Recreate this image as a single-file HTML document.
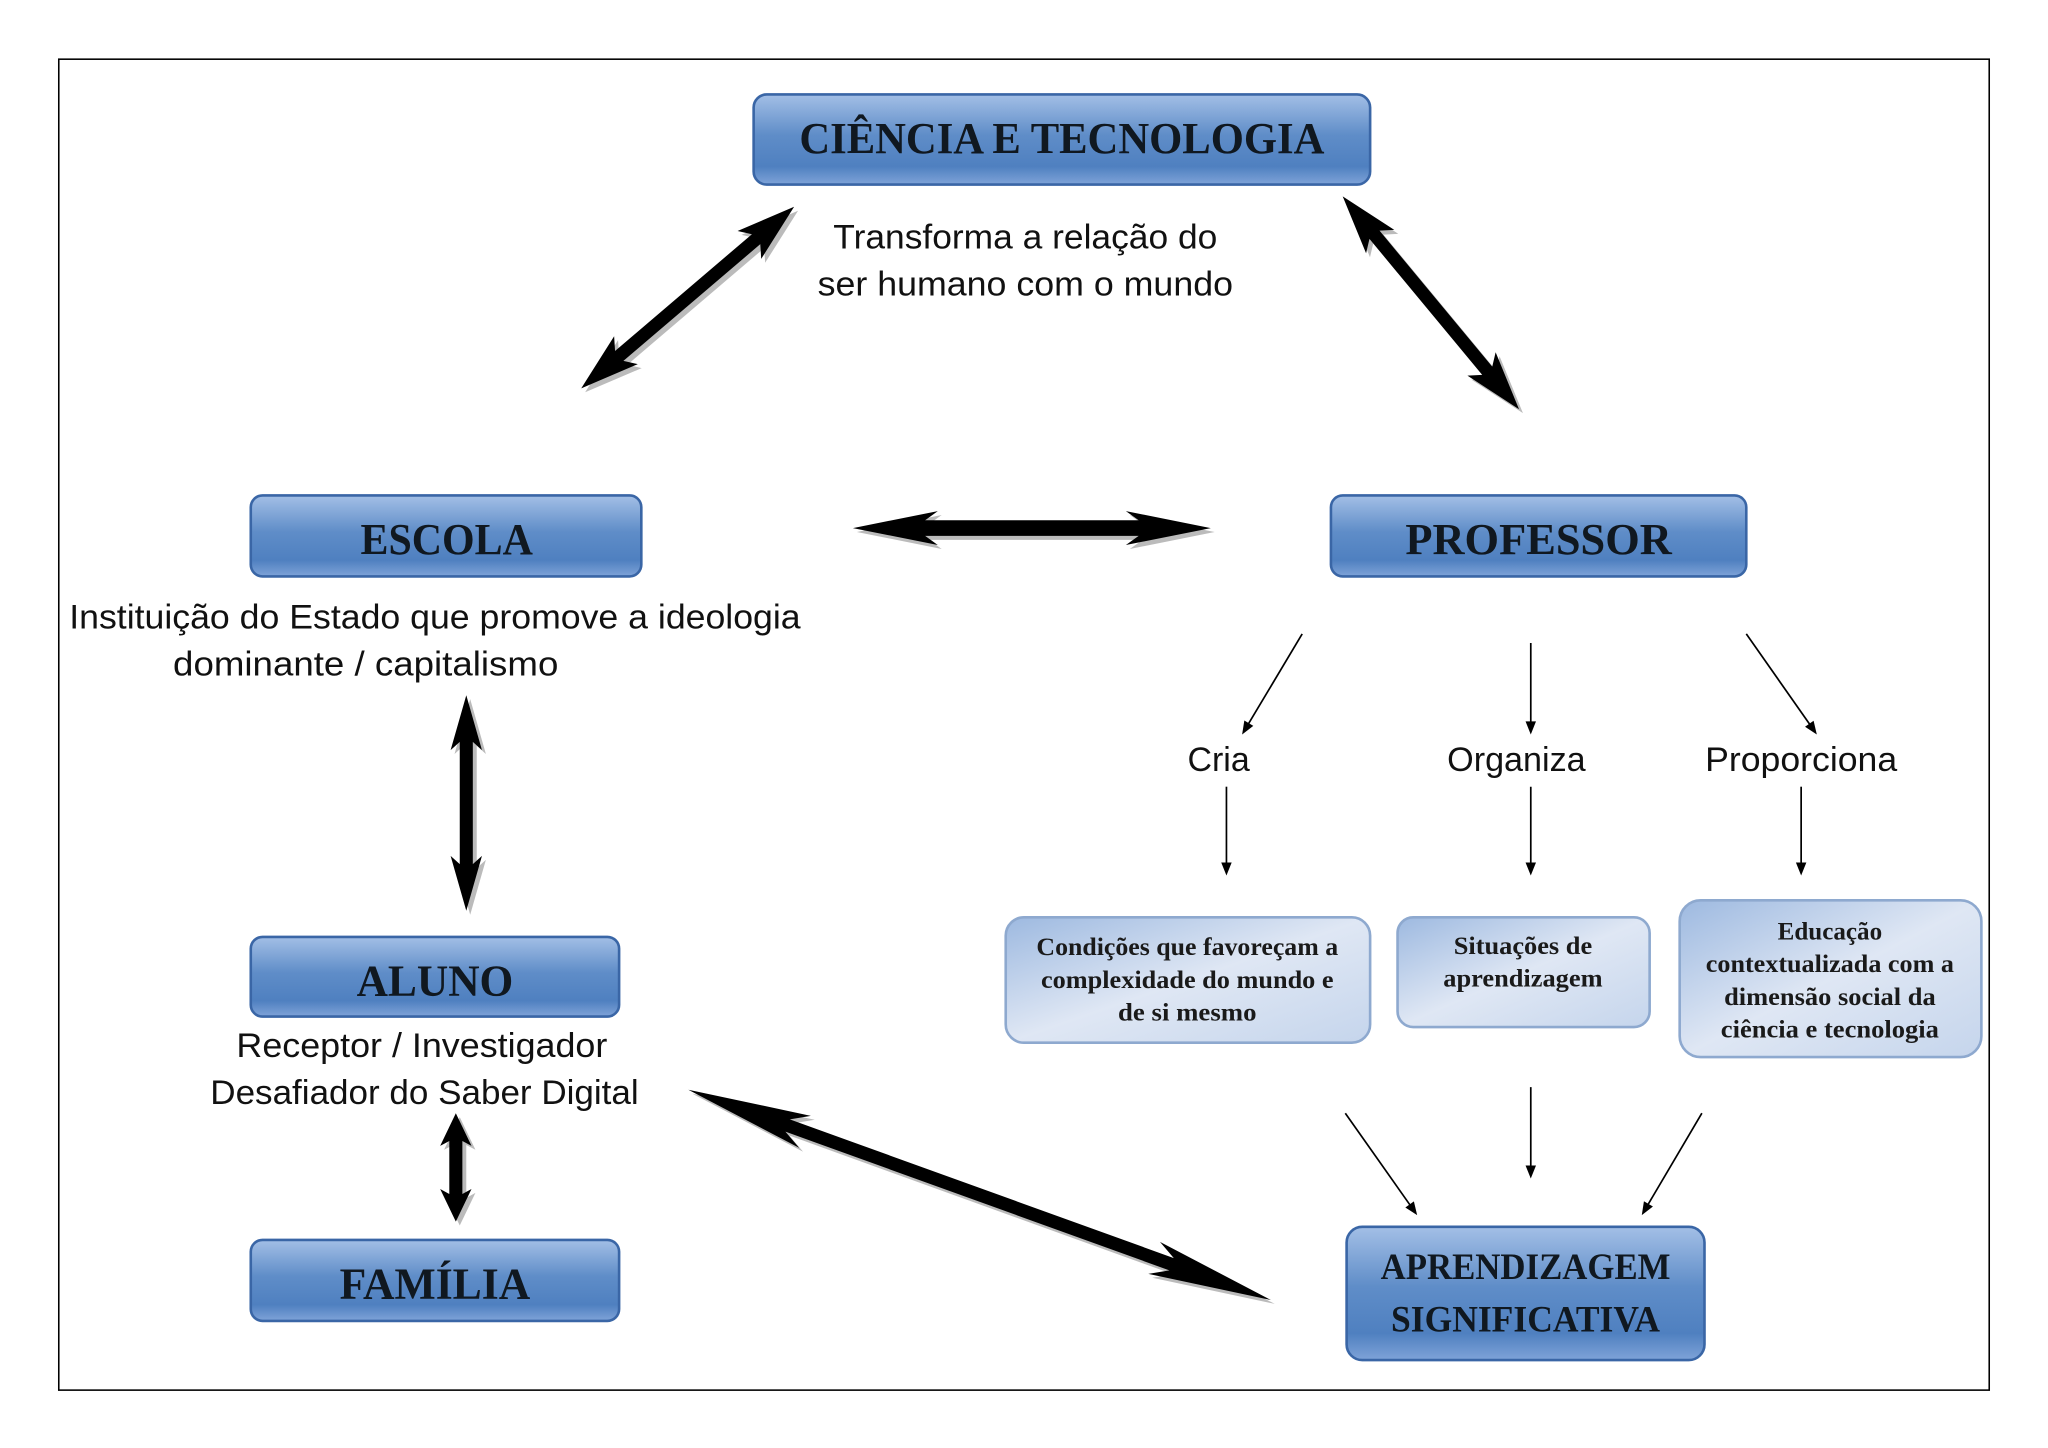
<!DOCTYPE html>
<html><head><meta charset="utf-8"><style>
html,body{margin:0;padding:0;background:#fff;}
svg{display:block;}
.bt{font-family:"Liberation Serif",serif;font-weight:bold;fill:#101820;text-anchor:middle;}
.tx{font-family:"Liberation Sans",sans-serif;fill:#111;text-anchor:middle;font-size:26px;}
.sm{font-family:"Liberation Serif",serif;font-weight:bold;fill:#1a1a1a;text-anchor:middle;font-size:19px;}
</style></head><body>
<svg id="s" width="2048" height="1448" viewBox="0 0 1568 1108" xmlns="http://www.w3.org/2000/svg">
<defs>
<linearGradient id="g" x1="0" y1="0" x2="0" y2="1">
<stop offset="0" stop-color="#a3bfe6"/><stop offset="0.45" stop-color="#5f8dc8"/><stop offset="0.8" stop-color="#4f80c0"/><stop offset="1" stop-color="#7fa3d8"/>
</linearGradient>
<linearGradient id="l" x1="0" y1="0" x2="1" y2="1">
<stop offset="0" stop-color="#9db9e0"/><stop offset="0.5" stop-color="#dfe7f4"/><stop offset="1" stop-color="#c5d5ec"/>
</linearGradient>
</defs>
<rect x="45" y="45" width="1478" height="1019" fill="none" stroke="#000" stroke-width="1.2"/>
<g stroke="#3a66a6" stroke-width="2" fill="url(#g)">
<rect x="577" y="72" width="472" height="69" rx="10"/>
<rect x="192" y="379" width="299" height="62" rx="9"/>
<rect x="1019" y="379" width="318" height="62" rx="9"/>
<rect x="192" y="717" width="282" height="61" rx="9"/>
<rect x="192" y="949" width="282" height="62" rx="9"/>
<rect x="1031" y="939" width="274" height="102" rx="12"/>
</g>
<g stroke="#8ea9cf" stroke-width="2" fill="url(#l)">
<rect x="770" y="702" width="279" height="96" rx="14"/>
<rect x="1070" y="702" width="193" height="84" rx="12"/>
<rect x="1286" y="689" width="231" height="120" rx="16"/>
</g>
<text class="bt" x="813" y="117" font-size="34" textLength="402" lengthAdjust="spacingAndGlyphs">CIÊNCIA E TECNOLOGIA</text>
<text class="bt" x="342" y="424" font-size="34" textLength="132" lengthAdjust="spacingAndGlyphs">ESCOLA</text>
<text class="bt" x="1178" y="424" font-size="34" textLength="204" lengthAdjust="spacingAndGlyphs">PROFESSOR</text>
<text class="bt" x="333" y="762" font-size="34" textLength="120" lengthAdjust="spacingAndGlyphs">ALUNO</text>
<text class="bt" x="333" y="994" font-size="34" textLength="146" lengthAdjust="spacingAndGlyphs">FAMÍLIA</text>
<text class="bt" x="1168" y="979" font-size="28" textLength="222" lengthAdjust="spacingAndGlyphs">APRENDIZAGEM</text>
<text class="bt" x="1168" y="1019" font-size="28" textLength="206" lengthAdjust="spacingAndGlyphs">SIGNIFICATIVA</text>
<text class="tx" x="785" y="190" textLength="294" lengthAdjust="spacingAndGlyphs">Transforma a relação do</text>
<text class="tx" x="785" y="226" textLength="318" lengthAdjust="spacingAndGlyphs">ser humano com o mundo</text>
<text class="tx" x="333" y="481" textLength="560" lengthAdjust="spacingAndGlyphs">Instituição do Estado que promove a ideologia</text>
<text class="tx" x="280" y="517" textLength="295" lengthAdjust="spacingAndGlyphs">dominante / capitalismo</text>
<text class="tx" x="323" y="809" textLength="284" lengthAdjust="spacingAndGlyphs">Receptor / Investigador</text>
<text class="tx" x="325" y="845" textLength="328" lengthAdjust="spacingAndGlyphs">Desafiador do Saber Digital</text>
<text class="tx" x="933" y="590">Cria</text>
<text class="tx" x="1161" y="590" textLength="106" lengthAdjust="spacingAndGlyphs">Organiza</text>
<text class="tx" x="1379" y="590" textLength="147" lengthAdjust="spacingAndGlyphs">Proporciona</text>
<text class="sm" x="909" y="731" textLength="231" lengthAdjust="spacingAndGlyphs">Condições que favoreçam a</text>
<text class="sm" x="909" y="756" textLength="224" lengthAdjust="spacingAndGlyphs">complexidade do mundo e</text>
<text class="sm" x="909" y="781" textLength="106" lengthAdjust="spacingAndGlyphs">de si mesmo</text>
<text class="sm" x="1166" y="730" textLength="106" lengthAdjust="spacingAndGlyphs">Situações de</text>
<text class="sm" x="1166" y="755" textLength="122" lengthAdjust="spacingAndGlyphs">aprendizagem</text>
<text class="sm" x="1401" y="719" textLength="80" lengthAdjust="spacingAndGlyphs">Educação</text>
<text class="sm" x="1401" y="744" textLength="190" lengthAdjust="spacingAndGlyphs">contextualizada com a</text>
<text class="sm" x="1401" y="769" textLength="162" lengthAdjust="spacingAndGlyphs">dimensão social da</text>
<text class="sm" x="1401" y="794" textLength="167" lengthAdjust="spacingAndGlyphs">ciência e tecnologia</text>
<g id="arr"></g>
</svg>
<script>
var g=document.getElementById('arr'),NS='http://www.w3.org/2000/svg';
function thin(x1,y1,x2,y2){var l=document.createElementNS(NS,'line');var dx=x2-x1,dy=y2-y1,L=Math.hypot(dx,dy),ux=dx/L,uy=dy/L;
l.setAttribute('x1',x1);l.setAttribute('y1',y1);l.setAttribute('x2',x2-ux*8);l.setAttribute('y2',y2-uy*8);l.setAttribute('stroke','#000');l.setAttribute('stroke-width','1.3');g.appendChild(l);
var p=document.createElementNS(NS,'polygon');var hx=x2-ux*10,hy=y2-uy*10;
p.setAttribute('points',x2+','+y2+' '+(hx-uy*4)+','+(hy+ux*4)+' '+(hx+uy*4)+','+(hy-ux*4));g.appendChild(p);}
function thick(x1,y1,x2,y2,hl,hw,sw){var dx=x2-x1,dy=y2-y1,L=Math.hypot(dx,dy),ux=dx/L,uy=dy/L,nx=-uy,ny=ux;
function P(t,n){return (x1+ux*t+nx*n).toFixed(1)+','+(y1+uy*t+ny*n).toFixed(1);}
var pts=[P(0,0),P(hl,hw),P(hl*0.85,sw),P(L-hl*0.85,sw),P(L-hl,hw),P(L,0),P(L-hl,-hw),P(L-hl*0.85,-sw),P(hl*0.85,-sw),P(hl,-hw)];
var s=document.createElementNS(NS,'polygon');s.setAttribute('points',pts.join(' '));s.setAttribute('fill','#bbb');s.setAttribute('transform','translate(3,3)');g.appendChild(s);
var p=document.createElementNS(NS,'polygon');p.setAttribute('points',pts.join(' '));p.setAttribute('fill','#000');g.appendChild(p);}
thick(445,297,608,158,45,14,5);
thick(1028,150,1163,313,45,14,5);
thick(653,404,927,404,65,13,6);
thick(357,532,357,697,42,12,5);
thick(349,852,349,935,25,12,5);
thick(527,834,973,995,95,13,5);
thin(997,485,951,562);thin(1172,492,1172,562);thin(1337,485,1391,562);
thin(939,602,939,670);thin(1172,602,1172,670);thin(1379,602,1379,670);
thin(1030,852,1085,930);thin(1172,832,1172,902);thin(1303,852,1257,930);
</script>
</body></html>
